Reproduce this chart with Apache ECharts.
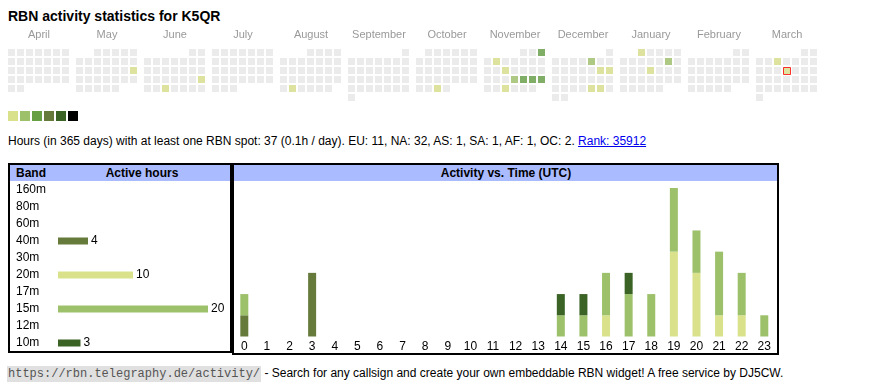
<!DOCTYPE html>
<html><head><meta charset="utf-8">
<script src="https://cdn.jsdelivr.net/npm/echarts@6/dist/echarts.min.js"></script>
<style>
html,body{margin:0;padding:0;background:#fff}
body{width:870px;height:390px;overflow:hidden;position:relative;font-family:"Liberation Sans",Arial,sans-serif;color:#000}
.t{position:absolute;white-space:nowrap}
.box{position:absolute;border:2px solid #000;box-sizing:border-box}
.hdr{position:absolute;background:#aabbff;height:16px}
.hb{position:absolute;font-weight:bold;font-size:12px;line-height:16px;white-space:nowrap}
#chart{position:absolute;left:0;top:0;width:870px;height:390px;z-index:2}
a{color:#0000ee}
.mono{font-family:"Liberation Mono","DejaVu Sans Mono",monospace;background:#e0e0e0;color:#555;padding:1px 1px}
</style></head>
<body>
<div class="t" style="left:8px;top:8px;font-size:14px;font-weight:bold;line-height:16px">RBN activity statistics for K5QR</div>
<div class="t" style="left:8px;top:134px;font-size:12px;line-height:14px">Hours (in 365 days) with at least one RBN spot: 37 (0.1h / day). EU: 11, NA: 32, AS: 1, SA: 1, AF: 1, OC: 2. <a href="#">Rank: 35912</a></div>
<div class="box" style="left:8px;top:163px;width:224px;height:190px"></div>
<div class="hdr" style="left:10px;top:165px;width:220px"></div>
<div class="hb" style="left:16px;top:165px">Band</div>
<div class="hb" style="left:142px;top:165px;transform:translateX(-50%)">Active hours</div>
<div class="box" style="left:232px;top:163px;width:547px;height:192px"></div>
<div class="hdr" style="left:234px;top:165px;width:543px"></div>
<div class="hb" style="left:506px;top:165px;transform:translateX(-50%)">Activity vs. Time (UTC)</div>
<div class="t" style="left:7px;top:367px;font-size:12px;line-height:13px"><span class="mono">https://rbn.telegraphy.de/activity/</span> - Search for any callsign and create your own embeddable RBN widget! A free service by DJ5CW.</div>
<div id="chart"></div>
<script>
// ---- data ----
const monthNames = ['April','May','June','July','August','September','October','November','December','January','February','March'];
const monthRanges = ['2024-04','2024-05','2024-06','2024-07','2024-08','2024-09','2024-10','2024-11','2024-12','2025-01','2025-02','2025-03'];
const activeDays = ['2024-05-19','2024-06-23','2024-06-26','2024-08-27','2024-10-30','2024-11-03','2024-11-05','2024-11-13','2024-11-21','2024-11-22','2024-11-23','2024-11-24','2024-11-27','2024-12-06','2024-12-14','2024-12-15','2024-12-27','2024-12-28','2025-01-01','2025-01-11','2025-01-16','2025-03-05','2025-03-13'];
const activeDayHours = [1,1,1,1,1,3,1,1,2,4,4,4,1,2,1,1,1,1,1,2,1,1,1];
const todayDate = '2025-03-13';
const levelColors = ['#d9e18b','#9dc16a','#679f45','#657a3b','#3a6325','#000000'];
const levelPieces = [[1,1],[2,2],[3,4],[5,6],[7,9],[10,1000]];

const bands = ['160m','80m','60m','40m','30m','20m','17m','15m','12m','10m'];
const bandHours = [0,0,0,4,0,10,0,20,0,3];
const bandColors = ['#c8c8c8','#a0a0a0','#888888','#657a3b','#b0c080','#d9e18b','#80a060','#9dc16a','#507040','#3a6325'];

const hourLabels = ['0','1','2','3','4','5','6','7','8','9','10','11','12','13','14','15','16','17','18','19','20','21','22','23'];
const hours40m = [1,0,0,3,0,0,0,0,0,0,0,0,0,0,0,0,0,0,0,0,0,0,0,0];
const hours20m = [0,0,0,0,0,0,0,0,0,0,0,0,0,0,0,0,1,0,0,4,3,1,1,0];
const hours15m = [1,0,0,0,0,0,0,0,0,0,0,0,0,0,1,1,2,2,2,3,2,3,2,1];
const hours10m = [0,0,0,0,0,0,0,0,0,0,0,0,0,0,1,1,0,1,0,0,0,0,0,0];
const hourSeries = [['40m',hours40m],['20m',hours20m],['15m',hours15m],['10m',hours10m]];

// ---- layout constants ----
const FONT = '"Liberation Sans", Arial, sans-serif';
const CAL_LEFT = 7, CAL_STEP = 68, CAL_TOP = 48, CELL = 9;

const chart = echarts.init(document.getElementById('chart'), null, {renderer:'canvas'});

const calendars = monthRanges.map((r,i)=>({
  orient:'vertical', range:r, left: CAL_LEFT + CAL_STEP*i, top: CAL_TOP, cellSize:[CELL,CELL],
  splitLine:{show:false},
  itemStyle:{color:'#ebebeb', borderColor:'#ffffff', borderWidth:2},
  dayLabel:{show:false, firstDay:1}, monthLabel:{show:false}, yearLabel:{show:false}
}));

const calSeries = monthRanges.map((r,i)=>({
  type:'scatter', coordinateSystem:'calendar', calendarIndex:i, symbol:'rect', symbolSize:7,
  silent:true,
  data: activeDays.map((d,k)=>({d,k})).filter(o=>o.d.startsWith(r)).map(o=>{
    const item = {value:[o.d, activeDayHours[o.k]]};
    if (o.d === todayDate) {
      item.itemStyle = {borderColor:'#ff0000', borderWidth:1};
      item.symbolOffset = [0.5,0.5];
    }
    return item;
  })
}));

const monthText = monthNames.map((m,i)=>({
  type:'text', x: CAL_LEFT + CAL_STEP*i + 32, y: 35,
  style:{text:m, textAlign:'center', textVerticalAlign:'middle', fill:'#999999', font:'11px '+FONT}
}));

const option = {
  animation:false,
  textStyle:{fontFamily:FONT},
  calendar: calendars,
  graphic: monthText,
  visualMap: {
    type:'piecewise', orient:'horizontal', left:8, top:111, padding:0,
    itemWidth:10, itemHeight:10, itemGap:2, itemSymbol:'rect', showLabel:false,
    selectedMode:false, hoverLink:false,
    seriesIndex: calSeries.map((s,i)=>i),
    pieces: levelPieces.map((p,i)=>({min:p[0], max:p[1], color:levelColors[i]}))
  },
  grid:[
    {left:58, top:181.5, width:150, height:170, containLabel:false},
    {left:233, top:188, width:542.6, height:148.5, containLabel:false}
  ],
  xAxis:[
    {type:'value', gridIndex:0, min:0, max:20, show:false},
    {type:'category', gridIndex:1, data:hourLabels, axisLine:{show:false}, axisTick:{show:false},
     axisLabel:{interval:0, margin:4, fontSize:12, color:'#000', fontFamily:FONT}}
  ],
  yAxis:[
    {type:'category', gridIndex:0, data:bands, inverse:true, axisLine:{show:false}, axisTick:{show:false},
     axisLabel:{align:'left', margin:42, fontSize:12, color:'#000', fontFamily:FONT}},
    {type:'value', gridIndex:1, min:0, max:7, show:false}
  ],
  series: calSeries.concat([
    {type:'bar', xAxisIndex:0, yAxisIndex:0, barWidth:7, silent:true,
     data: bandHours.map((v,i)=>({value:v, itemStyle:{color:bandColors[i]}})),
     label:{show:true, position:'right', distance:3, color:'#000', fontSize:12, fontFamily:FONT,
       formatter:p=>p.value ? String(p.value) : ''}}
  ]).concat(hourSeries.map(([b,arr])=>({
    type:'bar', name:b, xAxisIndex:1, yAxisIndex:1, stack:'hours', barWidth:8, silent:true,
    itemStyle:{color:bandColors[bands.indexOf(b)]}, data:arr
  })))
};
chart.setOption(option);
</script>
</body></html>
